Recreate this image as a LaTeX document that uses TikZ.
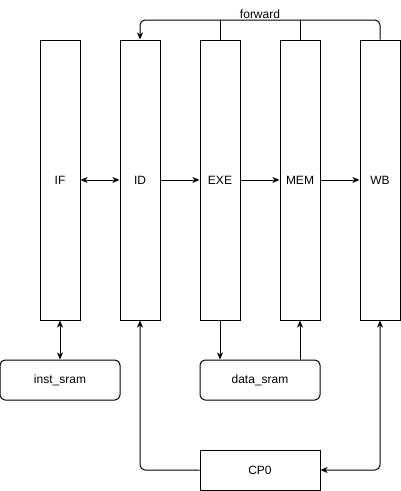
\documentclass[tikz,border=0pt]{standalone}
\usepackage{fontspec}
\setmainfont{Liberation Sans}
\usetikzlibrary{arrows.meta}
\begin{document}
\begin{tikzpicture}[x=1pt,y=-1pt,
  every node/.style={font=\fontsize{12}{14}\selectfont},
  stage/.style={draw,line width=1pt,minimum width=40pt,minimum height=280pt,inner sep=0pt},
  membox/.style={draw,line width=1pt,rounded corners=5pt,minimum width=120pt,minimum height=40pt,inner sep=0pt},
  plainbox/.style={draw,line width=1pt,minimum width=120pt,minimum height=40pt,inner sep=0pt},
  conn/.style={line width=1pt,-{Stealth[length=7pt,width=6pt,inset=2pt]}},
  bconn/.style={line width=1pt,{Stealth[length=7pt,width=6pt,inset=2pt]}-{Stealth[length=7pt,width=6pt,inset=2pt]}}]
\useasboundingbox (0,0) rectangle (401,491);
\node[stage] (if) at (60,180) {IF};
\node[stage] (id) at (140,180) {ID};
\node[stage] (exe) at (220,180) {EXE};
\node[stage] (mem) at (300,180) {MEM};
\node[stage] (wb) at (380,180) {WB};
\node[membox] (inst) at (60,380) {inst\_sram};
\node[membox] (data) at (260,380) {data\_sram};
\node[plainbox] (cp0) at (260,470) {CP0};
\coordinate (fl) at (140,20);
\coordinate (fr) at (380,20);
\coordinate (cl) at (140,470);
\coordinate (cr) at (380,470);
\draw[bconn] (if.east |- 0,180) -- (id.west |- 0,180);
\draw[conn] (id) -- (exe);
\draw[conn] (exe) -- (mem);
\draw[conn] (mem) -- (wb);
\draw[conn,rounded corners=5pt] (wb.north) -- (fr) -- (fl) -- (id.north);
\draw[line width=1pt] (exe.north) -- (exe.north |- fl);
\draw[line width=1pt] (mem.north) -- (mem.north |- fl);
\node[anchor=south,inner sep=0pt] (fwd) at (260,19) {forward};
\draw[bconn] (if.south) -- (inst.north -| if.south);
\draw[conn] (exe.south) -- (data.north -| exe.south);
\draw[conn] (data.north -| mem.south) -- (mem.south);
\draw[conn,rounded corners=5pt] (cp0.west) -- (cl) -- (id.south);
\draw[bconn,rounded corners=5pt] (wb.south) -- (cr) -- (cp0.east);
\end{tikzpicture}
\end{document}
